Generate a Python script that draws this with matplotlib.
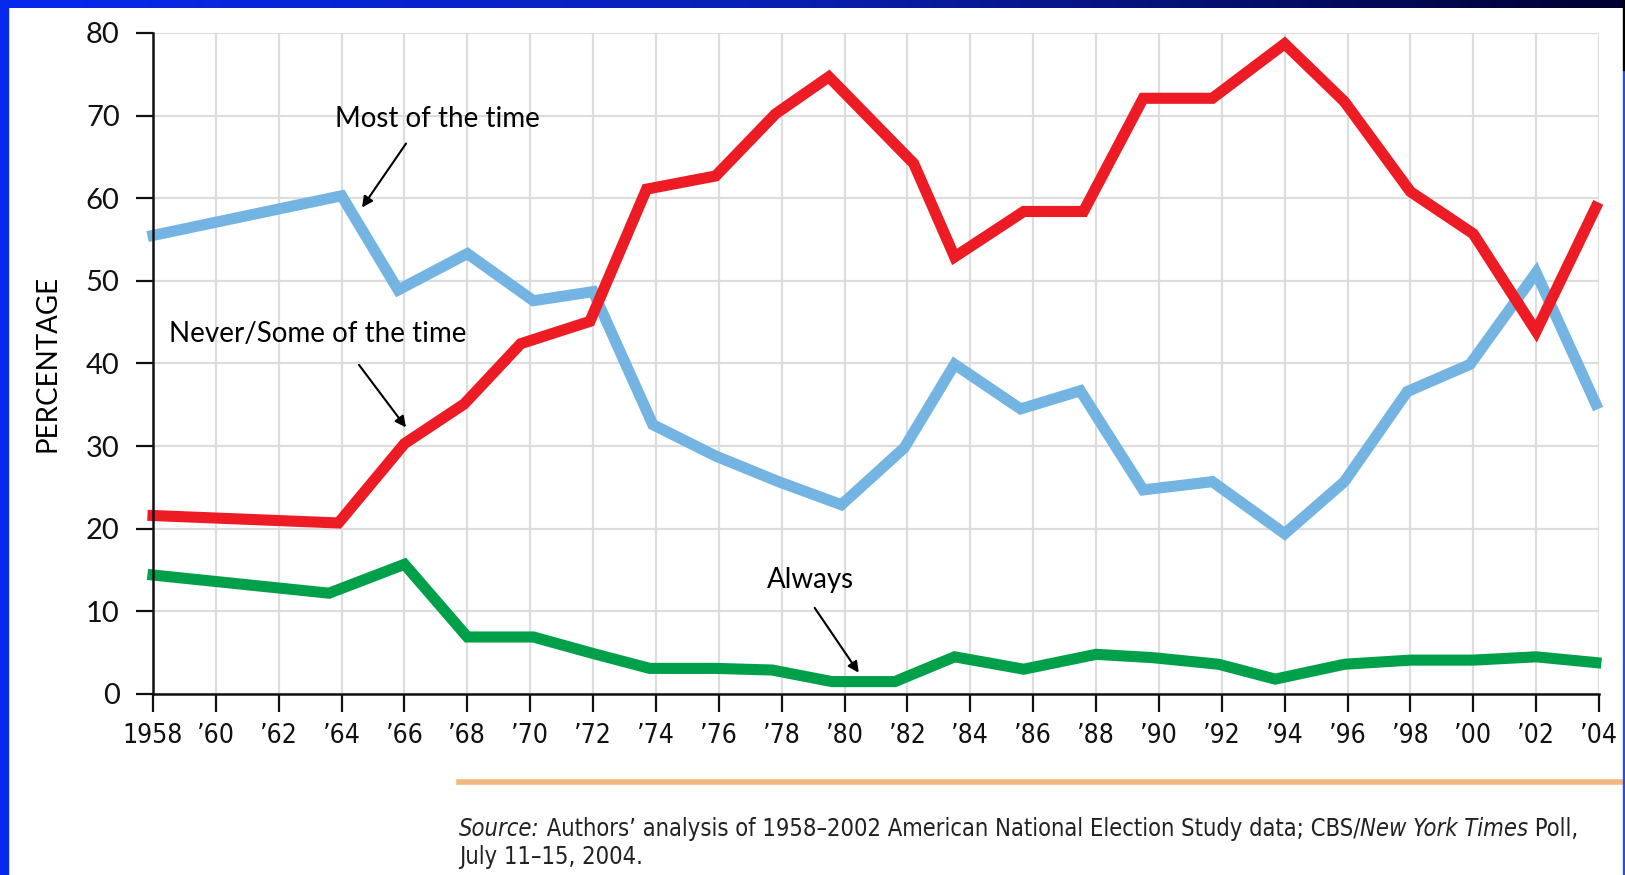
import numpy as np
import matplotlib
matplotlib.use('Agg')
import matplotlib.pyplot as plt
from matplotlib.patches import Rectangle
from matplotlib import font_manager

# x positions (points are not always exactly on the year ticks)
YEARS_MOST = [1958, 1964, 1965.8, 1968, 1970.1, 1972, 1973.9, 1975.9, 1977.9, 1979.9, 1981.9, 1983.5, 1985.6, 1987.5, 1989.5, 1991.7, 1994, 1995.9, 1997.9, 1999.9, 2002, 2003.9]
MOST = [55.5, 60.3, 48.9, 53.3, 47.6, 48.7, 32.6, 28.8, 25.7, 22.9, 29.8, 39.9, 34.5, 36.7, 24.7, 25.7, 19.4, 25.7, 36.6, 39.9, 51.0, 35.1]

YEARS_NEVER = [1958, 1963.9, 1966, 1967.9, 1969.7, 1971.9, 1973.7, 1975.9, 1977.8, 1979.5, 1982.2, 1983.5, 1985.7, 1987.6, 1989.5, 1991.7, 1994, 1995.9, 1998, 2000, 2002, 2003.9]
NEVER = [21.6, 20.7, 30.3, 35.1, 42.4, 45.1, 61.1, 62.7, 70.2, 74.7, 64.2, 52.9, 58.4, 58.4, 72.1, 72.1, 78.7, 71.7, 60.8, 55.7, 43.9, 58.9]

YEARS_ALWAYS = [1958, 1963.6, 1966, 1968, 1970.1, 1972, 1973.8, 1975.9, 1977.7, 1979.6, 1981.6, 1983.5, 1985.7, 1988, 1989.8, 1991.9, 1993.7, 1995.9, 1998, 2000, 2002, 2003.9]
ALWAYS = [14.4, 12.2, 15.7, 6.9, 6.9, 4.9, 3.1, 3.1, 2.9, 1.5, 1.5, 4.5, 3.0, 4.8, 4.4, 3.6, 1.8, 3.6, 4.1, 4.1, 4.5, 3.8]

XTICKS = list(range(1958, 2005, 2))
XLABELS = ['1958'] + ['\u2019%02d' % (y % 100) for y in XTICKS[1:]]
YTICKS = [0, 10, 20, 30, 40, 50, 60, 70, 80]

RED = '#ED1C24'
BLUE = '#74B4E3'
GREEN = '#00A04A'

# narrow font if there is one, else DejaVu condensed / plain
names = set(f.name for f in font_manager.fontManager.ttflist)
NARROW = 'Liberation Sans Narrow' if 'Liberation Sans Narrow' in names else 'DejaVu Sans'
STRETCH = 'normal' if NARROW == 'Liberation Sans Narrow' else 'condensed'

W, H = 1625, 875
fig = plt.figure(figsize=(W / 100, H / 100), dpi=100)
fig.patch.set_facecolor('white')

ax = fig.add_axes([153 / W, 1 - 694 / H, (1599 - 153) / W, (694 - 33) / H])
ax.set_xlim(1958, 2004)
ax.set_ylim(0, 80)

ax.set_xticks(XTICKS)
ax.set_xticklabels(XLABELS, fontfamily=NARROW, fontstretch=STRETCH, fontsize=19)
ax.set_yticks(YTICKS)
ax.set_yticklabels([str(v) for v in YTICKS], fontfamily='Lato', fontsize=21)
ax.tick_params(axis='x', length=13, width=1.6, pad=8, colors='#111111')
ax.tick_params(axis='y', length=12, width=1.6, pad=12, colors='#111111')
ax.grid(True, color='#DDDDDD', lw=1.6)
ax.set_axisbelow(True)
for s in ['top', 'right']:
    ax.spines[s].set_visible(False)
for s in ['left', 'bottom']:
    ax.spines[s].set_linewidth(1.8)
    ax.spines[s].set_color('#111111')

ax.plot(YEARS_MOST, MOST, color=BLUE, lw=8, solid_joinstyle='miter', clip_on=False)
ax.plot(YEARS_NEVER, NEVER, color=RED, lw=8, solid_joinstyle='miter', clip_on=False)
ax.plot(YEARS_ALWAYS, ALWAYS, color=GREEN, lw=8, solid_joinstyle='miter', clip_on=False)

ax.set_ylabel('PERCENTAGE', fontfamily='Lato', fontsize=20, labelpad=18)

arrow = dict(arrowstyle='-|>', color='black', lw=1.5, mutation_scale=16)
ax.annotate('Most of the time', xy=(1964.6, 58.6), xytext=(1963.8, 69.6),
            fontfamily='Lato', fontsize=20, ha='left', va='center')
ax.annotate('', xy=(1964.6, 58.6), xytext=(1966.1, 66.9), arrowprops=arrow)
ax.annotate('Never/Some of the time', xy=(1966.1, 32.0), xytext=(1958.5, 43.6),
            fontfamily='Lato', fontsize=20, ha='left', va='center')
ax.annotate('', xy=(1966.1, 32.0), xytext=(1964.5, 40.1), arrowprops=arrow)
ax.annotate('Always', xy=(1980.5, 2.3), xytext=(1978.9, 13.8),
            fontfamily='Lato', fontsize=20, ha='center', va='center')
ax.annotate('', xy=(1980.5, 2.3), xytext=(1979.0, 10.7), arrowprops=arrow)

# orange rule under the chart
fig.add_artist(plt.Line2D([459 / W, 1.0], [1 - 782 / H, 1 - 782 / H], color='#F2B880', lw=4))

# source line with italic parts, shrunk until it fits the reference width
renderer = fig.canvas.get_renderer()
parts = [('Source:', 'italic'), (' Authors\u2019 analysis of 1958\u20132002 American National Election Study data; CBS/', 'normal'),
         ('New York Times', 'italic'), (' Poll,', 'normal')]
size = 19
while True:
    texts = []
    x = 459
    for txt, style in parts:
        t = fig.text(x / W, 1 - 829 / H, txt, fontfamily=NARROW, fontstretch=STRETCH, fontsize=size,
                     style=style, va='center', ha='left', color='#222222')
        texts.append(t)
        x = t.get_window_extent(renderer).x1
    if x <= 1600 or size < 10:
        break
    for t in texts:
        t.remove()
    size -= 0.5
fig.text(459 / W, 1 - 857 / H, 'July 11\u201315, 2004.', fontfamily=NARROW, fontstretch=STRETCH,
         fontsize=size, va='center', ha='left', color='#222222')

# blue slide frame
fig.add_artist(Rectangle((0, 0), 8 / W, 1, transform=fig.transFigure, color='#0629EE', zorder=5))
gax = fig.add_axes([0, 1 - 8 / H, 1, 8 / H])
grad = np.linspace(0, 1, 256).reshape(1, -1)
cmap = matplotlib.colors.LinearSegmentedColormap.from_list('frame', ['#0629EE', '#0A1FB0', '#000030'])
gax.imshow(grad, aspect='auto', cmap=cmap)
gax.axis('off')
fig.add_artist(Rectangle((1 - 2 / W, 0), 2 / W, 0.92, transform=fig.transFigure, color='#2050F0', zorder=5))
fig.add_artist(Rectangle((1 - 2 / W, 0.92), 2 / W, 0.08, transform=fig.transFigure, color='black', zorder=5))

fig.savefig('out.png', dpi=100)
